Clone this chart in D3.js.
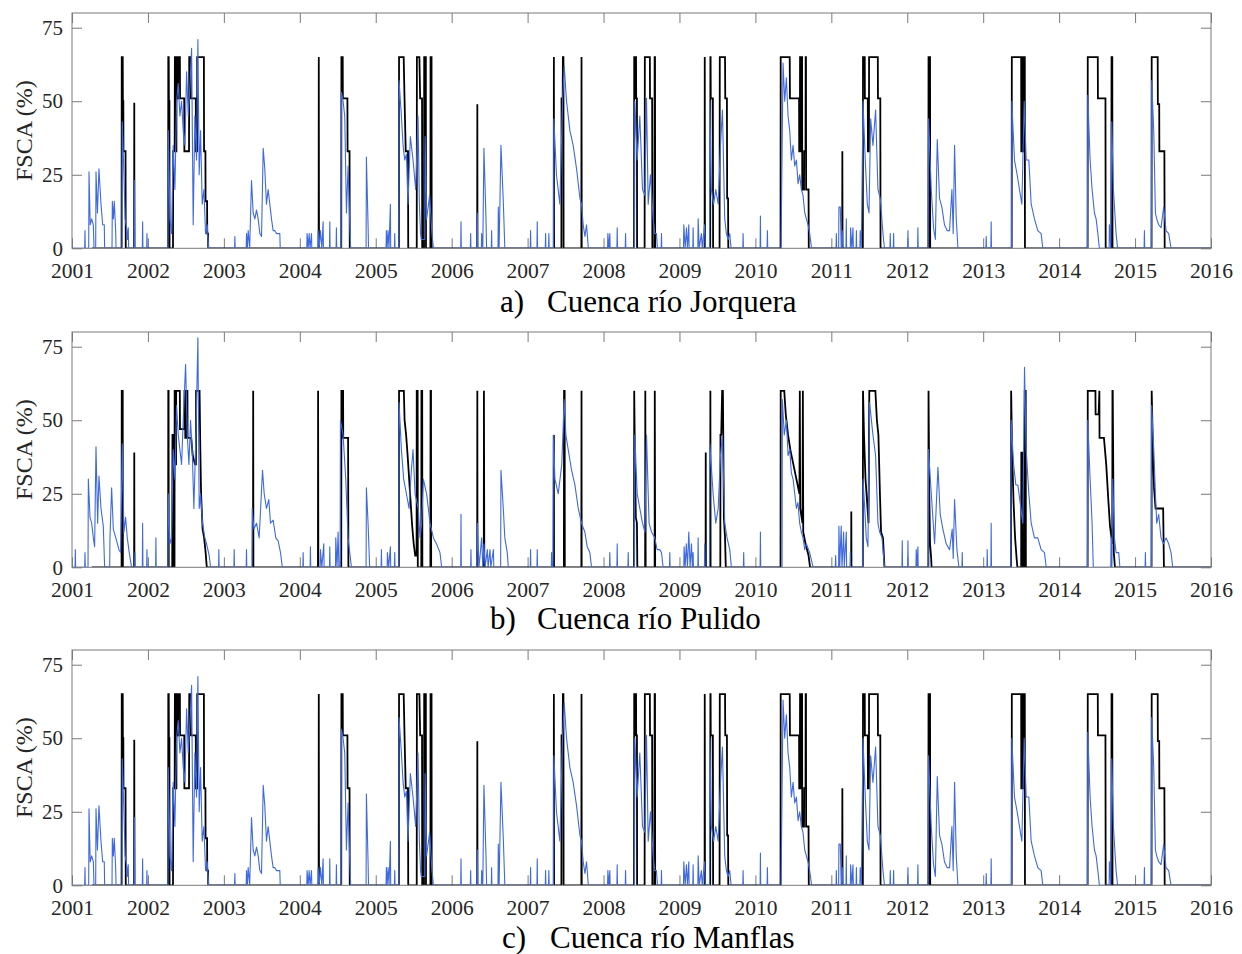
<!DOCTYPE html>
<html>
<head>
<meta charset="utf-8">
<script src="https://cdn.jsdelivr.net/npm/d3@7"></script>
<style>
  body { margin: 0; background: #fff; }
  svg { display: block; }
</style>
</head>
<body>
<svg id="chart" width="1242" height="954"></svg>
<script>
const width = 1242;
const height = 954;

// axis ticks
const yearTicks = d3.range(2001, 2017);
const fscaTicks = [0, 25, 50, 75];

// panel titles
const panelLetters = ["a)", "b)", "c)"];
const panelNames = ["Cuenca río Jorquera", "Cuenca río Pulido", "Cuenca río Manflas"];

// observed FSCA (blue), [decimal year, %]
const jorqueraObs = [
  [2001.000,0],[2001.167,0],[2001.171,6],[2001.175,0],[2001.220,0],[2001.224,26],[2001.240,8],[2001.259,10],[2001.281,8],[2001.290,0],[2001.312,0],[2001.316,26],[2001.335,12],[2001.355,27],[2001.382,15],[2001.404,8],[2001.425,8],[2001.430,0],
  [2001.527,0],[2001.531,16],[2001.545,10],[2001.557,16],[2001.575,6],[2001.580,0],[2001.658,0],[2001.662,43],[2001.684,25],[2001.700,10],[2001.719,7],[2001.730,3],[2001.741,7],[2001.746,0],[2001.821,0],[2001.825,23],[2001.830,0],[2001.926,0],[2001.930,9],[2001.934,0],[2001.983,0],[2001.987,5],[2001.991,0],
  [2002.264,0],[2002.268,40],[2002.289,10],[2002.311,5],[2002.333,35],[2002.355,20],[2002.377,50],[2002.399,56],[2002.421,45],[2002.443,50],[2002.465,40],[2002.487,35],[2002.509,60],[2002.531,45],[2002.553,55],[2002.575,68],[2002.596,8],[2002.618,45],[2002.640,30],[2002.658,71],[2002.675,25],[2002.693,40],[2002.715,15],[2002.737,20],[2002.759,5],[2002.781,8],[2002.800,0],
  [2003.141,0],[2003.145,4],[2003.149,0],[2003.294,0],[2003.298,5],[2003.310,0],[2003.320,6],[2003.340,0],[2003.364,23],[2003.386,12],[2003.408,10],[2003.430,13],[2003.452,10],[2003.474,5],[2003.496,4],[2003.518,34],[2003.539,27],[2003.561,15],[2003.583,20],[2003.605,15],[2003.627,10],[2003.649,6],[2003.671,6],[2003.693,5],[2003.715,5],[2003.737,5],[2003.742,0],
  [2004.092,0],[2004.096,5],[2004.110,0],[2004.123,5],[2004.135,0],[2004.154,5],[2004.158,0],[2004.237,0],[2004.241,6],[2004.255,0],[2004.272,6],[2004.290,0],[2004.307,9],[2004.311,0],[2004.391,0],[2004.395,9],[2004.399,0],[2004.478,0],[2004.482,7],[2004.486,0],[2004.544,0],[2004.548,53],[2004.570,50],[2004.592,45],[2004.614,12],[2004.636,28],[2004.658,8],[2004.670,0],
  [2004.873,0],[2004.877,31],[2004.899,8],[2004.905,0],[2005.136,0],[2005.140,6],[2005.150,0],[2005.162,6],[2005.175,0],[2005.193,15],[2005.197,0],[2005.246,0],[2005.250,5],[2005.254,0],[2005.303,0],[2005.307,57],[2005.338,45],[2005.360,35],[2005.382,30],[2005.404,32],[2005.425,15],[2005.456,38],[2005.491,30],[2005.526,20],[2005.557,45],[2005.575,15],[2005.590,5],[2005.600,3],[2005.646,3],[2005.650,38],[2005.670,10],[2005.710,18],[2005.740,5],[2005.760,0],
  [2006.119,0],[2006.123,9],[2006.127,0],[2006.246,0],[2006.250,5],[2006.254,0],[2006.334,0],[2006.338,12],[2006.342,0],[2006.391,0],[2006.395,5],[2006.410,0],[2006.425,34],[2006.452,10],[2006.460,0],[2006.522,0],[2006.526,6],[2006.530,0],[2006.610,0],[2006.614,14],[2006.625,0],[2006.649,35],[2006.680,16],[2006.700,0],
  [2007.035,0],[2007.039,6],[2007.043,0],[2007.123,0],[2007.127,9],[2007.131,0],[2007.233,0],[2007.237,5],[2007.241,0],[2007.276,0],[2007.280,5],[2007.284,0],[2007.342,0],[2007.346,44],[2007.380,25],[2007.425,15],[2007.460,50],[2007.482,62],[2007.513,50],[2007.535,45],[2007.557,40],[2007.600,35],[2007.645,27],[2007.689,17],[2007.710,15],[2007.732,8],[2007.755,4],[2007.776,8],[2007.800,0],
  [2008.053,0],[2008.057,5],[2008.070,0],[2008.083,5],[2008.087,0],[2008.176,0],[2008.180,7],[2008.184,0],[2008.286,0],[2008.290,5],[2008.294,0],[2008.408,0],[2008.412,50],[2008.443,30],[2008.478,45],[2008.513,20],[2008.544,18],[2008.566,51],[2008.588,15],[2008.618,25],[2008.654,10],[2008.675,5],[2008.697,5],[2008.710,0],[2008.759,0],[2008.763,5],[2008.767,0],
  [2009.053,0],[2009.057,8],[2009.075,0],[2009.092,7],[2009.105,0],[2009.123,8],[2009.127,0],[2009.176,0],[2009.180,7],[2009.184,0],[2009.242,0],[2009.246,10],[2009.260,0],[2009.289,5],[2009.300,0],[2009.330,8],[2009.340,0],[2009.396,0],[2009.400,50],[2009.420,20],[2009.450,15],[2009.478,20],[2009.510,15],[2009.540,35],[2009.566,47],[2009.596,10],[2009.618,5],[2009.640,3],[2009.662,5],[2009.680,0],[2009.834,0],[2009.838,5],[2009.842,0],
  [2010.062,0],[2010.066,11],[2010.070,0],[2010.154,0],[2010.158,6],[2010.162,0],[2010.338,0],[2010.342,10],[2010.364,63],[2010.386,50],[2010.408,58],[2010.430,45],[2010.452,40],[2010.474,30],[2010.496,35],[2010.518,28],[2010.540,30],[2010.562,22],[2010.583,25],[2010.605,20],[2010.627,18],[2010.650,12],[2010.671,10],[2010.693,8],[2010.715,5],[2010.740,0],
  [2011.062,0],[2011.066,5],[2011.070,0],[2011.096,0],[2011.100,14],[2011.118,14],[2011.130,0],[2011.145,6],[2011.150,0],[2011.193,0],[2011.197,10],[2011.201,0],[2011.250,0],[2011.254,7],[2011.270,0],[2011.285,7],[2011.290,0],[2011.326,0],[2011.330,6],[2011.334,0],[2011.376,0],[2011.380,6],[2011.395,0],[2011.417,50],[2011.447,30],[2011.474,15],[2011.496,12],[2011.518,44],[2011.548,35],[2011.583,47],[2011.614,20],[2011.645,17],[2011.680,5],[2011.700,0],[2011.772,0],[2011.776,5],[2011.780,0],[2011.816,0],[2011.820,5],[2011.824,0],
  [2012.005,0],[2012.009,6],[2012.013,0],[2012.136,0],[2012.140,7],[2012.144,0],[2012.276,0],[2012.280,44],[2012.316,20],[2012.346,7],[2012.370,3],[2012.395,37],[2012.425,17],[2012.456,14],[2012.490,8],[2012.526,6],[2012.557,6],[2012.588,20],[2012.605,5],[2012.623,35],[2012.645,10],[2012.667,0],
  [2013.036,0],[2013.040,4],[2013.044,0],[2013.101,0],[2013.105,9],[2013.109,0],[2013.373,0],[2013.377,50],[2013.412,30],[2013.447,25],[2013.478,20],[2013.509,15],[2013.540,50],[2013.566,30],[2013.601,30],[2013.632,15],[2013.675,10],[2013.719,6],[2013.763,5],[2013.785,0],
  [2014.373,0],[2014.377,52],[2014.408,30],[2014.434,20],[2014.465,12],[2014.487,10],[2014.510,5],[2014.530,0],[2014.658,0],[2014.662,8],[2014.680,0],[2014.693,43],[2014.715,20],[2014.750,5],[2014.770,0],
  [2015.119,0],[2015.123,6],[2015.127,0],[2015.215,0],[2015.219,57],[2015.246,40],[2015.268,12],[2015.285,10],[2015.311,8],[2015.342,7],[2015.377,14],[2015.408,6],[2015.443,5],[2015.474,0],[2016.000,0]
];

const pulidoObs = [
  [2001.000,0],[2001.040,0],[2001.044,6],[2001.048,0],[2001.167,0],[2001.171,5],[2001.175,0],[2001.211,0],[2001.215,30],[2001.237,17],[2001.259,15],[2001.281,10],[2001.298,7],[2001.316,41],[2001.338,15],[2001.355,31],[2001.382,20],[2001.412,14],[2001.430,0],
  [2001.496,0],[2001.500,10],[2001.522,27],[2001.544,13],[2001.566,11],[2001.588,9],[2001.618,6],[2001.640,5],[2001.662,42],[2001.684,12],[2001.706,17],[2001.728,10],[2001.754,5],[2001.785,0],[2001.825,0],[2001.829,5],[2001.833,0],[2001.926,0],[2001.930,15],[2001.934,0],[2001.983,0],[2001.987,6],[2001.991,0],
  [2002.101,0],[2002.105,10],[2002.109,0],[2002.264,0],[2002.268,25],[2002.289,8],[2002.311,10],[2002.333,40],[2002.355,30],[2002.377,55],[2002.399,45],[2002.421,40],[2002.443,35],[2002.465,50],[2002.496,69],[2002.518,45],[2002.540,35],[2002.561,50],[2002.583,40],[2002.605,20],[2002.632,45],[2002.658,78],[2002.675,20],[2002.693,25],[2002.719,15],[2002.750,10],[2002.772,8],[2002.807,4],[2002.825,0],[2002.930,0],[2002.934,6],[2002.938,0],
  [2003.132,0],[2003.136,6],[2003.140,0],[2003.294,0],[2003.298,6],[2003.302,0],[2003.369,0],[2003.373,20],[2003.395,13],[2003.430,15],[2003.465,10],[2003.509,33],[2003.531,25],[2003.561,20],[2003.592,23],[2003.614,15],[2003.649,16],[2003.684,10],[2003.715,9],[2003.746,5],[2003.770,0],
  [2004.040,0],[2004.044,5],[2004.048,0],[2004.136,0],[2004.140,7],[2004.144,0],[2004.268,0],[2004.272,6],[2004.290,0],[2004.316,8],[2004.320,0],[2004.391,0],[2004.395,7],[2004.399,0],[2004.470,0],[2004.474,10],[2004.490,0],[2004.504,12],[2004.515,0],[2004.531,0],[2004.535,50],[2004.570,45],[2004.605,30],[2004.636,10],[2004.658,5],[2004.680,0],
  [2004.873,0],[2004.877,27],[2004.899,15],[2004.920,0],[2005.071,0],[2005.075,6],[2005.079,0],[2005.150,0],[2005.154,5],[2005.170,0],[2005.193,7],[2005.197,0],[2005.246,0],[2005.250,5],[2005.254,0],[2005.303,0],[2005.307,56],[2005.338,40],[2005.368,30],[2005.404,25],[2005.439,20],[2005.469,33],[2005.491,40],[2005.518,25],[2005.560,20],[2005.583,10],[2005.605,15],[2005.627,30],[2005.670,25],[2005.715,15],[2005.760,10],[2005.800,8],[2005.846,5],[2005.868,0],
  [2006.119,0],[2006.123,18],[2006.127,0],[2006.250,0],[2006.254,6],[2006.258,0],[2006.334,0],[2006.338,15],[2006.360,0],[2006.395,10],[2006.410,0],[2006.425,8],[2006.440,0],[2006.470,6],[2006.480,0],[2006.505,6],[2006.515,0],[2006.550,6],[2006.555,0],[2006.645,0],[2006.649,33],[2006.680,20],[2006.700,10],[2006.732,5],[2006.746,0],
  [2007.035,0],[2007.039,6],[2007.043,0],[2007.123,0],[2007.127,6],[2007.131,0],[2007.312,0],[2007.316,5],[2007.320,0],[2007.334,0],[2007.338,45],[2007.360,30],[2007.404,25],[2007.450,35],[2007.482,57],[2007.504,45],[2007.535,40],[2007.579,33],[2007.623,28],[2007.667,20],[2007.710,15],[2007.754,12],[2007.785,7],[2007.820,5],[2007.842,0],
  [2008.079,0],[2008.083,5],[2008.087,0],[2008.176,0],[2008.180,8],[2008.184,0],[2008.321,0],[2008.325,5],[2008.329,0],[2008.408,0],[2008.412,45],[2008.443,25],[2008.478,20],[2008.513,15],[2008.545,12],[2008.566,45],[2008.600,15],[2008.632,12],[2008.675,10],[2008.706,6],[2008.740,6],[2008.763,5],[2008.785,0],[2008.869,0],[2008.873,5],[2008.877,0],
  [2009.057,0],[2009.061,7],[2009.075,0],[2009.090,8],[2009.105,0],[2009.123,12],[2009.140,0],[2009.158,8],[2009.170,0],[2009.180,5],[2009.184,0],[2009.242,0],[2009.246,10],[2009.250,0],[2009.329,0],[2009.333,8],[2009.337,0],[2009.396,0],[2009.400,42],[2009.443,25],[2009.478,15],[2009.510,20],[2009.540,38],[2009.566,45],[2009.596,15],[2009.627,10],[2009.662,6],[2009.684,0],[2009.842,0],[2009.846,5],[2009.850,0],
  [2010.062,0],[2010.066,12],[2010.070,0],[2010.351,0],[2010.355,57],[2010.380,45],[2010.408,50],[2010.430,38],[2010.452,40],[2010.474,32],[2010.496,30],[2010.518,25],[2010.540,20],[2010.560,22],[2010.583,15],[2010.605,12],[2010.627,10],[2010.650,6],[2010.671,8],[2010.715,5],[2010.760,0],
  [2011.053,0],[2011.057,4],[2011.061,0],[2011.096,0],[2011.100,14],[2011.110,0],[2011.130,14],[2011.140,0],[2011.162,12],[2011.170,0],[2011.197,12],[2011.201,0],[2011.246,0],[2011.250,5],[2011.254,0],[2011.413,0],[2011.417,30],[2011.440,20],[2011.460,10],[2011.482,7],[2011.504,56],[2011.548,45],[2011.583,38],[2011.614,15],[2011.636,12],[2011.667,10],[2011.700,0],
  [2011.930,0],[2011.934,9],[2011.938,0],[2012.005,0],[2012.009,9],[2012.013,0],[2012.114,0],[2012.118,6],[2012.130,0],[2012.140,7],[2012.144,0],[2012.276,0],[2012.280,40],[2012.316,25],[2012.360,8],[2012.404,34],[2012.434,18],[2012.469,13],[2012.513,8],[2012.557,6],[2012.592,13],[2012.605,3],[2012.623,23],[2012.654,6],[2012.680,0],[2012.720,0],[2012.724,5],[2012.728,0],
  [2013.049,0],[2013.053,6],[2013.057,0],[2013.101,0],[2013.105,15],[2013.109,0],[2013.364,0],[2013.368,50],[2013.400,35],[2013.430,28],[2013.456,28],[2013.487,22],[2013.522,15],[2013.544,68],[2013.566,40],[2013.601,25],[2013.632,15],[2013.675,10],[2013.719,10],[2013.763,6],[2013.807,5],[2013.830,0],
  [2014.373,0],[2014.377,50],[2014.408,30],[2014.434,15],[2014.450,0],[2014.680,0],[2014.684,10],[2014.695,0],[2014.706,30],[2014.728,10],[2014.750,5],[2014.785,5],[2014.800,0],
  [2015.132,0],[2015.136,5],[2015.140,0],[2015.215,0],[2015.219,55],[2015.246,40],[2015.268,25],[2015.285,15],[2015.311,18],[2015.342,10],[2015.373,8],[2015.408,10],[2015.443,8],[2015.474,5],[2015.496,0],[2016.000,0]
];

// Manflas reads the same as Jorquera in the figure
const manflasObs = jorqueraObs;

// simulated FSCA (black step line), [decimal year, %]
const jorqueraSim = [
  [2001.259,0],[2001.653,0],[2001.655,65],[2001.668,65],[2001.670,50],[2001.676,50],[2001.678,33],[2001.705,33],[2001.708,0],[2001.818,0],[2001.820,49.5],[2001.822,0],
  [2002.266,0],[2002.268,65],[2002.274,65],[2002.276,50],[2002.283,50],[2002.285,0],[2002.330,0],[2002.333,33],[2002.352,33],[2002.355,65],[2002.365,65],[2002.367,33],[2002.375,33],[2002.377,65],[2002.390,65],[2002.392,51],[2002.397,51],[2002.399,65],[2002.421,65],[2002.423,51],[2002.478,51],[2002.480,33],[2002.541,33],[2002.544,65],[2002.562,65],[2002.566,51],[2002.630,51],[2002.632,33],[2002.647,33],[2002.649,65],[2002.737,65],[2002.739,33],[2002.757,33],[2002.759,16],[2002.779,16],[2002.781,5],[2002.792,5],[2002.794,0],
  [2004.248,0],[2004.250,65],[2004.253,0],
  [2004.546,0],[2004.548,65],[2004.565,65],[2004.567,51],[2004.627,51],[2004.629,33],[2004.655,33],[2004.658,0],
  [2005.305,0],[2005.307,65],[2005.368,65],[2005.380,50],[2005.395,33],[2005.425,33],[2005.428,0],[2005.540,0],[2005.542,65],[2005.575,65],[2005.585,51],[2005.610,51],[2005.612,0],[2005.636,0],[2005.638,65],[2005.660,65],[2005.662,0],[2005.720,0],[2005.722,65],[2005.735,65],[2005.737,0],
  [2006.336,0],[2006.338,49],[2006.340,0],
  [2007.344,0],[2007.346,65],[2007.349,0],[2007.445,0],[2007.447,51],[2007.462,51],[2007.465,65],[2007.472,65],[2007.474,0],[2007.708,0],[2007.710,65],[2007.713,0],
  [2008.402,0],[2008.404,65],[2008.410,65],[2008.412,51],[2008.418,51],[2008.420,65],[2008.428,65],[2008.430,51],[2008.440,51],[2008.442,0],[2008.541,0],[2008.544,65],[2008.610,65],[2008.612,51],[2008.640,51],[2008.643,0],[2008.670,0],[2008.673,65],[2008.678,65],[2008.680,0],
  [2009.331,0],[2009.333,65],[2009.336,0],[2009.405,0],[2009.407,65],[2009.410,65],[2009.412,51],[2009.440,51],[2009.443,0],[2009.528,0],[2009.531,65],[2009.600,65],[2009.603,51],[2009.625,51],[2009.628,17],[2009.640,17],[2009.643,0],
  [2010.331,0],[2010.333,65],[2010.452,65],[2010.455,51],[2010.575,51],[2010.577,33],[2010.585,33],[2010.588,65],[2010.592,65],[2010.594,33],[2010.610,33],[2010.612,65],[2010.615,65],[2010.617,20],[2010.640,20],[2010.642,33],[2010.660,33],[2010.662,65],[2010.666,65],[2010.668,20],[2010.700,20],[2010.703,0],
  [2011.143,0],[2011.145,33],[2011.148,0],
  [2011.415,0],[2011.417,65],[2011.440,65],[2011.442,51],[2011.480,51],[2011.482,33],[2011.495,33],[2011.497,65],[2011.612,65],[2011.614,51],[2011.645,51],[2011.648,0],
  [2012.278,0],[2012.280,65],[2012.300,65],[2012.302,0],
  [2013.375,0],[2013.377,65],[2013.500,65],[2013.502,33],[2013.510,33],[2013.512,65],[2013.530,65],[2013.532,33],[2013.538,33],[2013.540,65],[2013.548,65],[2013.550,0],
  [2014.375,0],[2014.377,65],[2014.509,65],[2014.511,51],[2014.610,51],[2014.613,0],[2014.688,0],[2014.690,65],[2014.700,65],[2014.703,0],
  [2015.217,0],[2015.219,65],[2015.298,65],[2015.300,49],[2015.318,49],[2015.320,33],[2015.386,33],[2015.390,0],[2016.000,0]
];

const pulidoSim = [
  [2001.259,0],[2001.653,0],[2001.655,60],[2001.668,60],[2001.670,0],[2001.818,0],[2001.820,39],[2001.822,0],
  [2002.266,0],[2002.268,60],[2002.272,60],[2002.274,0],[2002.320,0],[2002.323,45],[2002.328,45],[2002.330,0],[2002.350,0],[2002.352,60],[2002.360,60],[2002.362,35],[2002.370,35],[2002.372,60],[2002.420,60],[2002.422,47],[2002.480,47],[2002.482,60],[2002.490,60],[2002.492,44],[2002.510,44],[2002.512,60],[2002.520,60],[2002.522,44],[2002.570,44],[2002.590,38],[2002.620,35],[2002.632,35],[2002.634,60],[2002.680,60],[2002.690,40],[2002.700,25],[2002.720,13],[2002.740,10],[2002.760,5],[2002.775,0],
  [2003.384,0],[2003.386,60],[2003.389,0],
  [2004.239,0],[2004.241,60],[2004.244,0],
  [2004.546,0],[2004.548,60],[2004.570,60],[2004.572,44],[2004.636,44],[2004.640,0],
  [2005.305,0],[2005.307,60],[2005.370,60],[2005.380,50],[2005.400,45],[2005.420,38],[2005.440,30],[2005.460,22],[2005.480,14],[2005.500,8],[2005.520,4],[2005.538,4],[2005.540,60],[2005.552,60],[2005.554,0],[2005.600,0],[2005.602,60],[2005.612,60],[2005.614,0],[2005.720,0],[2005.722,60],[2005.728,60],[2005.730,0],
  [2006.336,0],[2006.338,60],[2006.340,0],[2006.423,0],[2006.425,60],[2006.430,0],
  [2007.344,0],[2007.346,45],[2007.348,0],[2007.478,0],[2007.480,60],[2007.488,60],[2007.490,0],[2007.708,0],[2007.710,60],[2007.712,0],
  [2008.402,0],[2008.404,60],[2008.410,45],[2008.425,17],[2008.440,15],[2008.445,0],[2008.548,0],[2008.550,60],[2008.555,0],[2008.673,0],[2008.675,60],[2008.680,0],
  [2009.344,0],[2009.346,39],[2009.348,0],[2009.405,0],[2009.407,60],[2009.410,0],[2009.538,0],[2009.540,45],[2009.550,45],[2009.562,60],[2009.572,60],[2009.585,17],[2009.600,10],[2009.610,0],
  [2010.331,0],[2010.333,60],[2010.380,60],[2010.400,52],[2010.430,45],[2010.460,40],[2010.500,35],[2010.540,30],[2010.580,25],[2010.585,60],[2010.590,20],[2010.620,15],[2010.625,60],[2010.630,12],[2010.660,8],[2010.700,4],[2010.720,0],
  [2011.261,0],[2011.263,19],[2011.265,0],
  [2011.415,0],[2011.417,60],[2011.430,45],[2011.450,30],[2011.490,15],[2011.500,60],[2011.580,60],[2011.600,50],[2011.620,45],[2011.640,25],[2011.655,12],[2011.680,10],[2011.700,0],
  [2012.278,0],[2012.280,60],[2012.290,25],[2012.300,8],[2012.315,3],[2012.320,0],
  [2013.366,0],[2013.368,60],[2013.380,40],[2013.400,22],[2013.420,10],[2013.440,3],[2013.450,0],[2013.500,0],[2013.502,39],[2013.520,39],[2013.522,0],[2013.545,0],[2013.547,60],[2013.560,60],[2013.562,0],
  [2014.375,0],[2014.377,60],[2014.478,60],[2014.480,52],[2014.520,52],[2014.530,60],[2014.532,44],[2014.590,44],[2014.620,35],[2014.650,22],[2014.670,14],[2014.700,8],[2014.702,60],[2014.706,60],[2014.720,5],[2014.735,0],
  [2015.217,0],[2015.219,60],[2015.235,40],[2015.250,27],[2015.270,20],[2015.370,20],[2015.380,0],[2016.000,0]
];

const manflasSim = jorqueraSim;

const obsSeries = [jorqueraObs, pulidoObs, manflasObs];
const simSeries = [jorqueraSim, pulidoSim, manflasSim];

// layout
const left = 72;
const right = 1211;
const panelTops = [13, 332, 650];
const plotH = 235.3;
const titleBaselines = [311.7, 628.5, 948];
const titleLetterX = [500, 490, 502];
const titleNameX = [547, 537, 550];

const serif = "'Liberation Serif', 'Times New Roman', serif";
const frameColor = "#7a7a7a";
const textColor = "#262626";

const svg = d3.select("#chart");

const x = d3.scaleLinear().domain([2001, 2016]).range([left, right]);

const line = (y) => d3.line().x(d => x(d[0])).y(d => y(d[1]));

panelTops.forEach((top, i) => {
  const y = d3.scaleLinear().domain([0, 80]).range([top + plotH, top]);
  const g = svg.append("g");

  g.append("clipPath")
    .attr("id", "clip" + i)
    .append("rect")
    .attr("x", left).attr("y", top)
    .attr("width", right - left).attr("height", plotH);

  // bottom axis with labels, ticks pointing inward
  const bottom = g.append("g")
    .attr("transform", `translate(0,${top + plotH})`)
    .call(d3.axisBottom(x).tickValues(yearTicks).tickFormat(d3.format("d"))
      .tickSizeInner(-10).tickSizeOuter(0).tickPadding(14));
  const top_ = g.append("g")
    .attr("transform", `translate(0,${top})`)
    .call(d3.axisTop(x).tickValues(yearTicks).tickFormat("")
      .tickSizeInner(-10).tickSizeOuter(0));
  const leftAx = g.append("g")
    .attr("transform", `translate(${left},0)`)
    .call(d3.axisLeft(y).tickValues(fscaTicks)
      .tickSizeInner(-10).tickSizeOuter(0).tickPadding(9));
  const rightAx = g.append("g")
    .attr("transform", `translate(${right},0)`)
    .call(d3.axisRight(y).tickValues(fscaTicks).tickFormat("")
      .tickSizeInner(-10).tickSizeOuter(0));

  [bottom, top_, leftAx, rightAx].forEach(ax => {
    ax.select(".domain").remove();
    ax.selectAll(".tick line").attr("stroke", frameColor).attr("stroke-width", 1);
    ax.selectAll(".tick text")
      .attr("fill", textColor)
      .attr("font-family", serif);
  });
  bottom.selectAll(".tick text").attr("font-size", 21.5);
  leftAx.selectAll(".tick text").attr("font-size", 21);

  const plot = g.append("g").attr("clip-path", `url(#clip${i})`);

  // simulated (black) under observed (blue)
  plot.append("path")
    .datum(simSeries[i])
    .attr("d", line(y))
    .attr("fill", "none")
    .attr("stroke", "#000")
    .attr("stroke-width", 1.8)
    .attr("stroke-linejoin", "miter");

  plot.append("path")
    .datum(obsSeries[i])
    .attr("d", line(y))
    .attr("fill", "none")
    .attr("stroke", "#3f69e0")
    .attr("stroke-width", 1.1)
    .attr("stroke-linejoin", "round");

  // frame
  g.append("rect")
    .attr("x", left).attr("y", top)
    .attr("width", right - left).attr("height", plotH)
    .attr("fill", "none")
    .attr("stroke", frameColor)
    .attr("stroke-width", 1);

  // y label
  g.append("text")
    .attr("transform", `translate(26,${top + plotH / 2}) rotate(-90)`)
    .attr("text-anchor", "middle")
    .attr("dominant-baseline", "middle")
    .attr("font-family", serif)
    .attr("font-size", 24)
    .attr("fill", textColor)
    .text("FSCA (%)");

  // panel title
  const t = g.append("text")
    .attr("y", titleBaselines[i])
    .attr("font-family", serif)
    .attr("font-size", 31)
    .attr("fill", "#000");
  t.append("tspan").attr("x", titleLetterX[i]).text(panelLetters[i]);
  t.append("tspan").attr("x", titleNameX[i]).text(panelNames[i]);
});
</script>
</body>
</html>
